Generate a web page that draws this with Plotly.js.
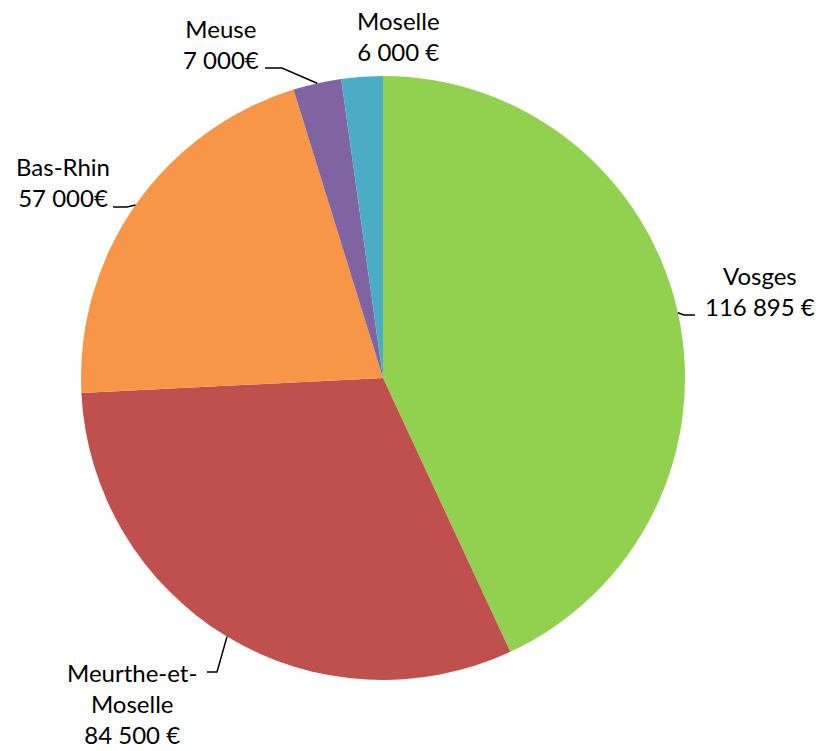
<!DOCTYPE html>
<html>
<head>
<meta charset="utf-8">
<script src="https://cdn.plot.ly/plotly-3.0.1.min.js"></script>
<style>html,body{margin:0;padding:0;background:#fff;}#chart{width:818px;height:751px;}</style>
</head>
<body>
<div id="chart"></div>
<script>
// ---- data ----
const categories = ['Vosges', 'Meurthe-et-Moselle', 'Bas-Rhin', 'Meuse', 'Moselle'];
const values = [116895, 84500, 57000, 7000, 6000];
const labelTexts = ['Vosges<br>116 895 €', 'Meurthe-et-<br>Moselle<br>84 500 €', 'Bas-Rhin<br>57 000€', 'Meuse<br>7 000€', 'Moselle<br>6 000 €'];
const colors = ['#92D050', '#C0504D', '#F79646', '#8064A2', '#4BACC6'];

// ---- layout (pixels) ----
const W = 818, H = 751, CX = 383, CY = 378, R = 302;
const labelPos = [[760, 291], [132, 703], [63, 182], [221, 44], [398, 36]];
const leaderElbow = [[684, 315], [217, 672], [127, 207], [282, 68], null];
const leaderEnd = [[695, 315], [207, 672], [113, 207], [265, 68], null];
const FONT = 'Lato, "Open Sans", sans-serif';

const px = x => x / W;
const py = y => 1 - y / H;

const total = values.reduce((a, b) => a + b, 0);
let cum = 0;
const annotations = [];
const shapes = [];
values.forEach((v, i) => {
  const mid = (cum + v / 2) / total * 2 * Math.PI;
  cum += v;
  const ex = CX + R * Math.sin(mid), ey = CY - R * Math.cos(mid);
  annotations.push({
    xref: 'paper', yref: 'paper', x: px(labelPos[i][0]), y: py(labelPos[i][1]),
    xanchor: 'center', yanchor: 'middle', text: labelTexts[i], showarrow: false,
    align: 'center', font: {family: FONT, size: 24, color: '#000'}
  });
  if (leaderElbow[i]) {
    const p = 'M ' + px(ex) + ',' + py(ey) + ' L ' + px(leaderElbow[i][0]) + ',' + py(leaderElbow[i][1]) +
              ' L ' + px(leaderEnd[i][0]) + ',' + py(leaderEnd[i][1]);
    shapes.push({type: 'path', xref: 'paper', yref: 'paper', path: p, line: {color: '#000', width: 1.5}});
  }
});

const trace = {
  type: 'pie', labels: categories, values: values, sort: false, direction: 'clockwise', rotation: 0,
  marker: {colors: colors, line: {width: 0}}, textinfo: 'none', hoverinfo: 'none',
  domain: {x: [px(CX - R), px(CX + R)], y: [py(CY + R), py(CY - R)]}
};

Plotly.newPlot('chart', [trace], {
  width: W, height: H, margin: {l: 0, r: 0, t: 0, b: 0},
  paper_bgcolor: '#fff', showlegend: false, annotations: annotations, shapes: shapes
}, {displayModeBar: false, staticPlot: true});
</script>
</body>
</html>
